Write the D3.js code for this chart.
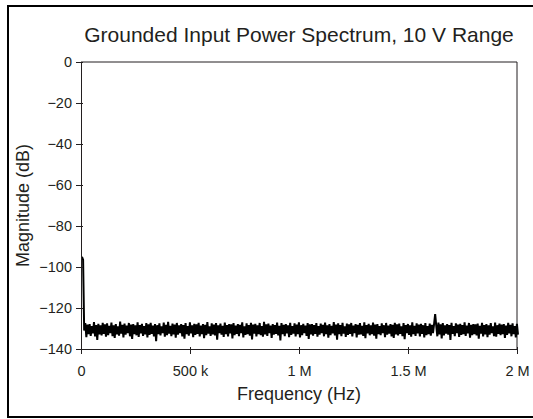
<!DOCTYPE html>
<html>
<head>
<meta charset="utf-8">
<script src="https://d3js.org/d3.v7.min.js"></script>
<style>
  body { margin: 0; background: #fff; }
  svg text { font-family: "Liberation Sans", Arial, sans-serif; fill: #231f20; }
</style>
</head>
<body>
<svg id="chart"></svg>
<script>
// chart texts and ticks
const title = "Grounded Input Power Spectrum, 10 V Range";
const xTitle = "Frequency (Hz)";
const yTitle = "Magnitude (dB)";
const xTicks = [0, 500000, 1000000, 1500000, 2000000];
const xTickLabels = ["0", "500 k", "1 M", "1.5 M", "2 M"];
const yTicks = [0, -20, -40, -60, -80, -100, -120, -140];

// spectrum: 401 bins, 5 kHz apart, 0 to 2 MHz (dB)
const binWidth = 5000;
const magnitude = [
  -95.0, -96.5, -131.0, -127.4, -134.2, -128.1, -132.7, -127.9, -133.6, -128.8, -132.4, -126.9, -133.9, -128.3, -135.6, -127.7, -132.9, -128.5, -133.4, -127.2,
  -132.6, -128.0, -134.0, -127.5, -133.2, -128.7, -132.3, -127.1, -133.7, -128.4, -134.6, -127.8, -132.8, -128.9, -133.5, -126.6, -132.5, -128.2, -134.3, -127.6,
  -133.0, -128.6, -132.2, -127.3, -133.8, -128.1, -135.1, -127.9, -132.7, -128.5, -133.3, -127.0, -134.1, -128.3, -132.4, -127.7, -133.6, -128.8, -132.9, -127.4,
  -134.4, -128.0, -133.1, -127.2, -132.6, -128.6, -133.9, -127.8, -136.2, -128.4, -132.8, -127.5, -133.4, -128.9, -132.3, -127.1, -134.0, -128.2, -133.2, -126.8,
  -132.5, -128.7, -133.7, -127.6, -132.9, -128.1, -134.5, -127.3, -133.0, -128.5, -132.2, -127.9, -133.8, -128.3, -135.0, -127.4, -132.7, -128.8, -133.5, -127.0,
  -132.4, -128.4, -134.2, -127.7, -133.1, -128.0, -132.6, -127.2, -133.9, -128.6, -132.8, -127.8, -134.7, -128.2, -133.3, -126.9, -132.5, -128.9, -133.6, -127.5,
  -132.9, -128.1, -133.4, -127.3, -135.4, -128.5, -132.3, -127.6, -133.0, -128.7, -134.1, -127.1, -132.7, -128.3, -133.8, -127.9, -132.4, -128.0, -134.8, -127.4,
  -133.2, -128.6, -132.6, -127.8, -133.7, -128.2, -132.2, -127.0, -134.3, -128.9, -133.1, -127.5, -132.8, -128.4, -133.5, -127.2, -135.3, -128.1, -132.5, -127.7,
  -133.9, -128.5, -132.7, -127.3, -133.2, -128.8, -134.0, -126.7, -132.9, -128.0, -133.6, -127.6, -132.3, -128.6, -134.6, -127.9, -133.0, -128.3, -132.6, -127.1,
  -133.4, -128.7, -135.8, -127.4, -132.8, -128.2, -133.7, -127.8, -132.4, -128.5, -134.2, -127.2, -133.1, -128.9, -132.5, -127.5, -133.9, -128.1, -132.7, -127.0,
  -134.4, -128.4, -133.3, -127.7, -132.2, -128.6, -133.6, -127.3, -135.1, -128.0, -132.9, -127.9, -133.5, -128.3, -132.6, -127.4, -134.0, -128.8, -133.0, -127.6,
  -132.3, -128.2, -133.8, -127.1, -132.7, -128.5, -134.5, -127.8, -133.2, -128.7, -132.4, -126.9, -133.4, -128.1, -135.5, -127.5, -132.8, -128.4, -133.7, -127.2,
  -132.5, -128.9, -134.1, -127.6, -133.1, -128.0, -132.6, -127.3, -133.9, -128.6, -132.3, -127.9, -134.3, -128.2, -133.0, -127.4, -132.9, -128.7, -133.6, -127.0,
  -134.7, -128.3, -132.4, -127.7, -133.3, -128.5, -132.8, -127.1, -133.5, -128.1, -135.0, -127.8, -132.7, -128.8, -133.2, -127.5, -132.2, -128.4, -134.2, -127.3,
  -133.0, -128.6, -132.5, -127.9, -133.8, -128.2, -134.6, -127.2, -132.9, -128.0, -133.4, -127.6, -132.6, -128.9, -133.7, -127.4, -135.2, -128.3, -132.3, -127.8,
  -133.1, -128.5, -134.0, -127.0, -132.8, -128.7, -133.6, -127.5, -132.4, -128.1, -133.9, -127.7, -132.6, -128.4, -134.4, -127.3, -133.2, -128.9, -132.7, -127.6,
  -133.5, -128.2, -132.3, -127.9, -123.0, -128.6, -133.8, -127.1, -132.9, -128.0, -134.8, -127.4, -133.3, -128.5, -132.5, -127.8, -133.0, -128.3, -135.6, -127.2,
  -132.6, -128.8, -133.7, -127.5, -132.2, -128.1, -134.1, -127.7, -133.1, -128.4, -132.7, -127.0, -133.6, -128.6, -132.4, -127.3, -134.5, -128.2, -133.2, -127.9,
  -132.8, -128.0, -133.4, -127.6, -135.0, -128.7, -132.5, -127.2, -133.9, -128.3, -132.9, -127.8, -134.2, -128.5, -133.0, -127.4, -132.3, -128.9, -133.7, -127.1,
  -134.0, -128.4, -132.6, -127.6, -133.3, -128.1, -132.8, -127.9, -134.6, -128.6, -133.1, -127.3, -132.4, -128.2, -133.8, -127.5, -132.7, -128.8, -134.3, -127.7,
  -133.0
];

const W = 533, H = 419;
const margin = { left: 81, right: 16, top: 62, bottom: 70 };

const svg = d3.select("#chart").attr("width", W).attr("height", H);

// outer frame (right edge falls outside the picture)
svg.append("rect")
  .attr("x", 8).attr("y", 6).attr("width", 540).attr("height", 411)
  .attr("fill", "none").attr("stroke", "#000").attr("stroke-width", 2);

const x = d3.scaleLinear().domain([0, 2000000]).range([margin.left, W - margin.right]);
const y = d3.scaleLinear().domain([-140, 0]).range([H - margin.bottom, margin.top]);

// plot box (top and right edges)
svg.append("path")
  .attr("d", `M${x(0)},${y(0)}H${x(2000000)}V${y(-140)}`)
  .attr("fill", "none").attr("stroke", "#231f20").attr("stroke-width", 1);

const line = d3.line()
  .x((d, i) => x(i * binWidth) + 1)
  .y(d => y(d));

svg.append("path")
  .datum(magnitude)
  .attr("d", line)
  .attr("fill", "none")
  .attr("stroke", "#000")
  .attr("stroke-width", 2)
  .attr("stroke-linejoin", "bevel");

const xAxis = svg.append("g")
  .attr("transform", `translate(0,${y(-140)})`)
  .call(d3.axisBottom(x).tickValues(xTicks).tickFormat((d, i) => xTickLabels[i])
    .tickSizeInner(5).tickSizeOuter(0).tickPadding(12));
xAxis.selectAll(".tick line").attr("y1", -2);

const yAxis = svg.append("g")
  .attr("transform", `translate(${x(0)},0)`)
  .call(d3.axisLeft(y).tickValues(yTicks).tickFormat(d => d < 0 ? "\u2212" + Math.abs(d) : d)
    .tickSizeInner(5).tickSizeOuter(0).tickPadding(4));
yAxis.selectAll(".tick line").attr("x1", 2);

[xAxis, yAxis].forEach(g => {
  g.selectAll("path, line").attr("stroke", "#231f20");
  g.selectAll("text").attr("font-size", 14.5).attr("fill", "#231f20")
    .style("font-family", "'Liberation Sans', Arial, sans-serif");
});

svg.append("text")
  .attr("x", x(1000000)).attr("y", 42)
  .attr("text-anchor", "middle").attr("font-size", 21)
  .text(title);

svg.append("text")
  .attr("x", x(1000000)).attr("y", 400)
  .attr("text-anchor", "middle").attr("font-size", 18)
  .text(xTitle);

svg.append("text")
  .attr("transform", `translate(29,${y(-70)}) rotate(-90)`)
  .attr("text-anchor", "middle").attr("font-size", 18)
  .text(yTitle);
</script>
</body>
</html>
